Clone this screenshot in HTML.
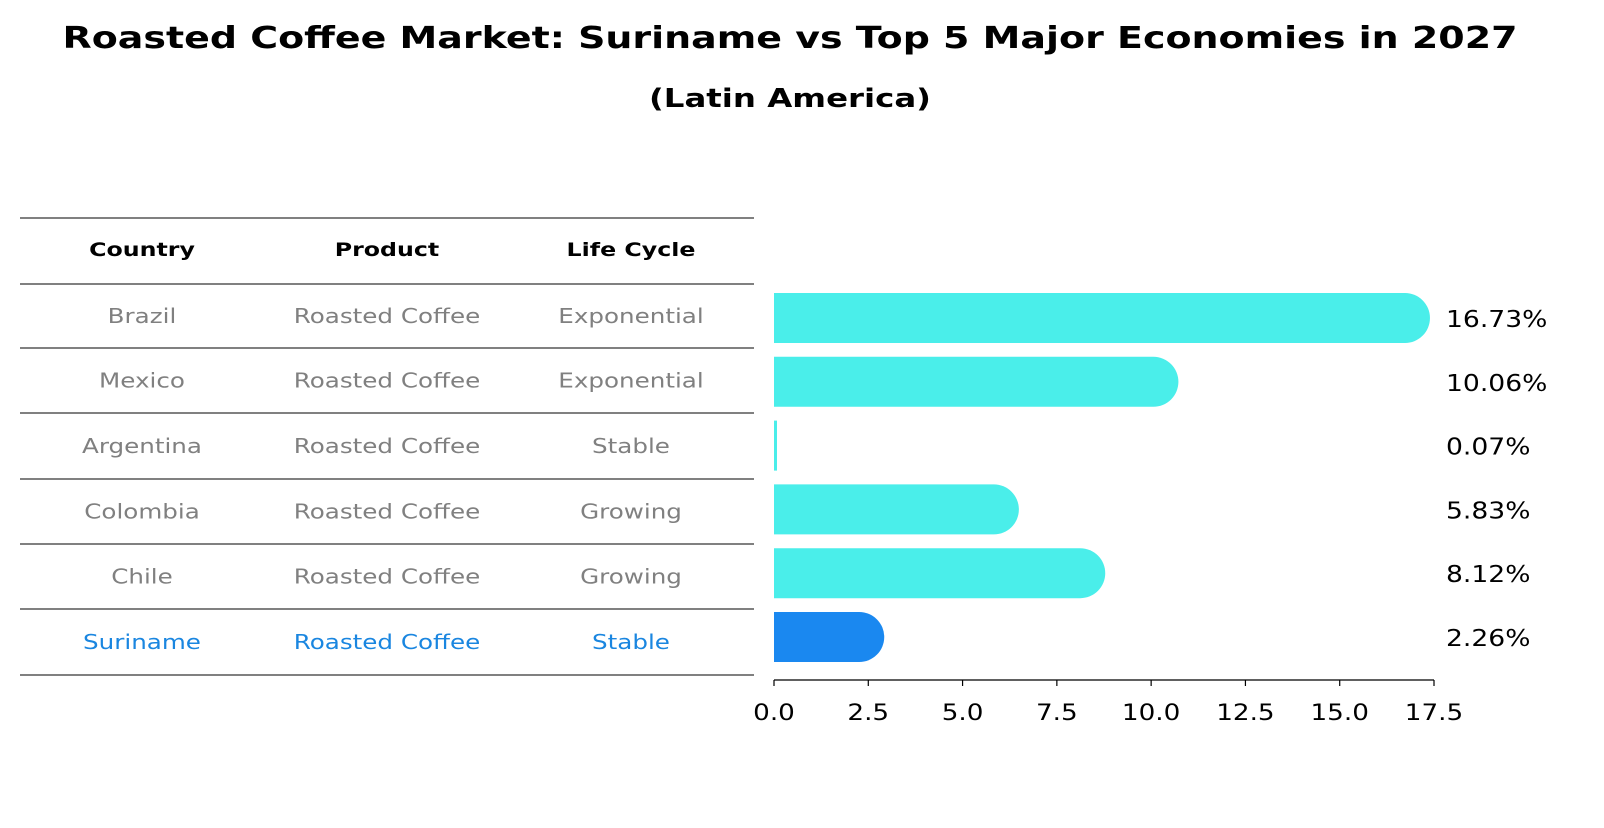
<!DOCTYPE html>
<html><head><meta charset="utf-8"><style>
body{margin:0;background:#fff;font-family:"Liberation Sans","DejaVu Sans",sans-serif;}
svg text{font-family:"DejaVu Sans","Liberation Sans",sans-serif;}
</style></head><body>
<svg id="chart" width="1604" height="823" xmlns="http://www.w3.org/2000/svg">
<text x="790" y="48" text-anchor="middle" font-size="30" font-weight="bold" data-w="1455">Roasted Coffee Market: Suriname vs Top 5 Major Economies in 2027</text>
<text x="790" y="107" text-anchor="middle" font-size="26" font-weight="bold" data-w="282">(Latin America)</text>
<g id="table"></g>
<g id="bars"></g>
<g id="axis"></g>
</svg>
<script>
const countries=["Brazil","Mexico","Argentina","Colombia","Chile","Suriname"];
const products=["Roasted Coffee","Roasted Coffee","Roasted Coffee","Roasted Coffee","Roasted Coffee","Roasted Coffee"];
const lifeCycles=["Exponential","Exponential","Stable","Growing","Growing","Stable"];
const values=[16.73,10.06,0.07,5.83,8.12,2.26];
const ticks=[0,2.5,5,7.5,10,12.5,15,17.5];
const NS="http://www.w3.org/2000/svg";
const x0=774,x1=1434,xmax=17.5;
function xs(v){return x0+(x1-x0)*v/xmax;}
function rowY(i){return 318+i*63.8;}
function mk(tag,attrs,parent,txt){const e=document.createElementNS(NS,tag);for(const k in attrs)e.setAttribute(k,attrs[k]);if(txt!==undefined)e.textContent=txt;parent.appendChild(e);return e;}
const tbl=document.getElementById('table');
const lines=[218,284,348,413,479,544,609,675];
lines.forEach((y,i)=>{const l=mk('line',{x1:20,x2:754,y1:y,y2:y,stroke:'#000','stroke-width':1},tbl);

});
const cx=[142,387,631];
["Country","Product","Life Cycle"].forEach((h,j)=>{const t=mk('text',{x:cx[j],y:256,'text-anchor':'middle','font-size':19,'font-weight':'bold','data-r':1.48},tbl,h);

});
countries.forEach((c,i)=>{const y=(lines[i+1]+lines[i+2])/2+7;const col=i===5?'#1a86e0':'#808080';
[c,products[i],lifeCycles[i]].forEach((s,j)=>{const t=mk('text',{x:cx[j],y:y,'text-anchor':'middle','font-size':20,fill:col,'data-r':1.49},tbl,s);

});});
const bars=document.getElementById('bars');
values.forEach((v,i)=>{const yc=rowY(i),h=50,col=i===5?'#1a88f0':'#4aeeea';
const w=xs(v)-x0;let el;
if(v>0.5){const r=25;const xe=x0+w;
el=mk('path',{d:`M${x0},${yc-h/2}H${xe}A${r},${r} 0 0 1 ${xe},${yc+h/2}H${x0}Z`,fill:col},bars);}
else{el=mk('rect',{x:x0,y:yc-h/2,width:Math.max(w,3),height:h,fill:col},bars);}


const t=mk('text',{x:1446,y:yc+9,'font-size':23,'data-r':1.4},bars,v.toFixed(2)+'%');

});
const ax=document.getElementById('axis');
const al=mk('line',{x1:x0,x2:x1,y1:680,y2:680,stroke:'#000','stroke-width':1.2},ax);


ticks.forEach(t=>{const x=xs(t);const tk=mk('line',{x1:x,x2:x,y1:680,y2:686,stroke:'#000','stroke-width':1.2},ax);


const lb=mk('text',{x:x,y:720,'text-anchor':'middle','font-size':22,'data-r':1.38},ax,t.toFixed(1));

});
// width correction: data-r is reference/default-size width ratio at the original base size
document.querySelectorAll('text').forEach(t=>{
  try{
    const len=t.getComputedTextLength();
    if(t.hasAttribute('data-w')){t.setAttribute('textLength',t.getAttribute('data-w'));t.setAttribute('lengthAdjust','spacingAndGlyphs');}
    else if(t.hasAttribute('data-r')){
      const fs=parseFloat(t.getAttribute('font-size'));
      const base={19:16,20:16.5,23:19,22:19}[fs]||fs;
      const target=len*(base/fs)*parseFloat(t.getAttribute('data-r'));
      t.setAttribute('textLength',target.toFixed(1));t.setAttribute('lengthAdjust','spacingAndGlyphs');
    }
  }catch(e){}
});
</script>
</body></html>
